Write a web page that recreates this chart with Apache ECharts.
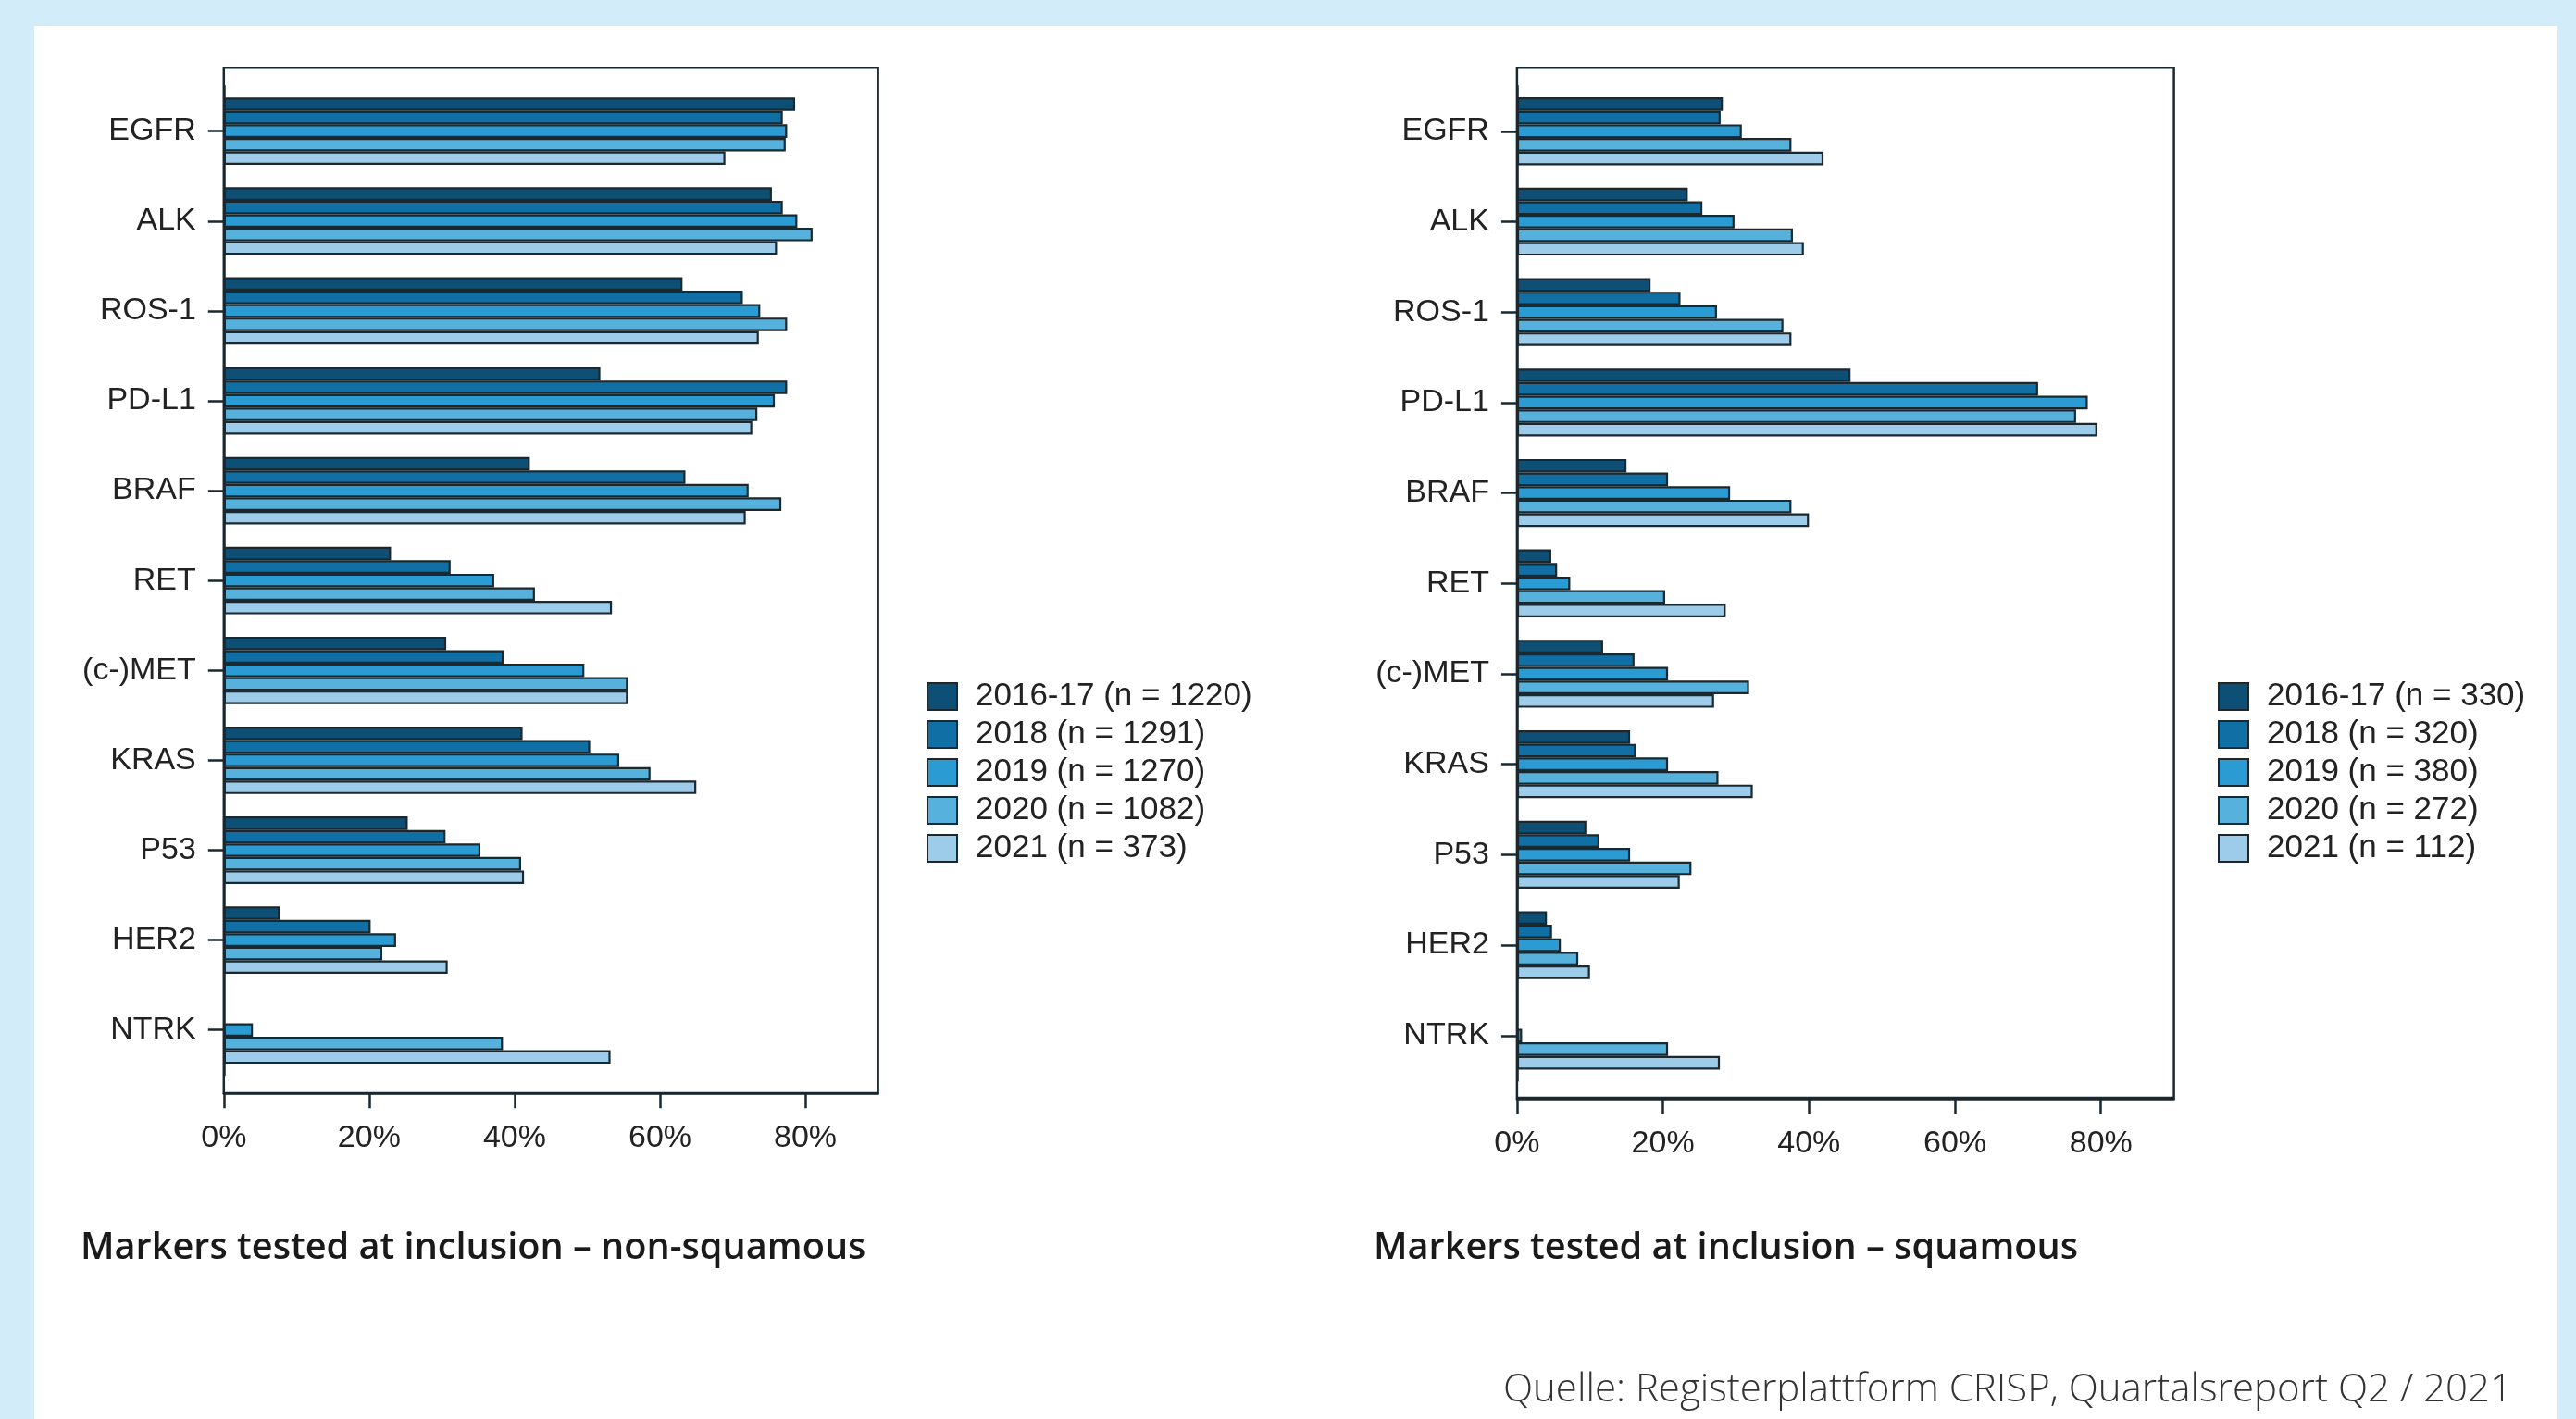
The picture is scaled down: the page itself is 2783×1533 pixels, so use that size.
<!DOCTYPE html>
<html>
<head>
<meta charset="utf-8">
<script src="https://cdn.jsdelivr.net/npm/echarts@6/dist/echarts.min.js"></script>
<style>
  html, body { margin: 0; padding: 0; width: 2783px; height: 1533px; background: #d2edf9; overflow: hidden; }
  #panel { position: absolute; left: 37px; top: 28px; width: 2726px; height: 1505px; background: #ffffff; }
  #chart { position: absolute; left: 0; top: 0; width: 2783px; height: 1533px; }
</style>
</head>
<body>
<div id="panel"></div>
<div id="chart"></div>
<script>
// ---- Data ----
const markers = ['EGFR', 'ALK', 'ROS-1', 'PD-L1', 'BRAF', 'RET', '(c-)MET', 'KRAS', 'P53', 'HER2', 'NTRK'];
const years = ['2016-17', '2018', '2019', '2020', '2021'];
const nNonSquamous = [1220, 1291, 1270, 1082, 373];
const nSquamous = [330, 320, 380, 272, 112];
const xTicks = [0, 20, 40, 60, 80];

// Non-squamous (% tested)
const nonSq_2016_17 = [78.6, 75.4, 63.1, 51.8, 42.1, 23.0, 30.6, 41.1, 25.3, 7.7, null];
const nonSq_2018    = [76.9, 76.9, 71.4, 77.5, 63.5, 31.2, 38.5, 50.4, 30.5, 20.2, null];
const nonSq_2019    = [77.5, 78.9, 73.8, 75.8, 72.2, 37.2, 49.6, 54.4, 35.3, 23.7, 4.0];
const nonSq_2020    = [77.3, 81.0, 77.5, 73.4, 76.7, 42.8, 55.6, 58.7, 40.9, 21.8, 38.4];
const nonSq_2021    = [69.0, 76.1, 73.6, 72.7, 71.8, 53.4, 55.6, 65.0, 41.3, 30.8, 53.2];

// Squamous (% tested)
const sq_2016_17 = [28.2, 23.4, 18.3, 45.7, 15.0, 4.7, 11.8, 15.5, 9.5, 4.1, null];
const sq_2018    = [27.9, 25.4, 22.4, 71.4, 20.7, 5.5, 16.1, 16.3, 11.3, 4.8, null];
const sq_2019    = [30.8, 29.8, 27.4, 78.2, 29.2, 7.3, 20.7, 20.7, 15.5, 6.0, 0.7];
const sq_2020    = [37.6, 37.8, 36.5, 76.6, 37.6, 20.3, 31.8, 27.6, 23.9, 8.4, 20.7];
const sq_2021    = [42.0, 39.3, 37.6, 79.5, 40.0, 28.6, 27.0, 32.3, 22.3, 10.0, 27.8];

const titleLeft = 'Markers tested at inclusion \u2013 non-squamous';
const titleRight = 'Markers tested at inclusion \u2013 squamous';
const sourceText = 'Quelle: Registerplattform CRISP, Quartalsreport Q2 / 2021';

// ---- Style ----
const colors = ['#0e4f76', '#1070a6', '#2a9cd3', '#56b1dc', '#9dcbea'];
const lineColor = '#1a2830';
const textColor = '#222222';
const axisFont = 'Liberation Sans, Arial, sans-serif';

const nonSqData = [nonSq_2016_17, nonSq_2018, nonSq_2019, nonSq_2020, nonSq_2021];
const sqData = [sq_2016_17, sq_2018, sq_2019, sq_2020, sq_2021];
const namesNonSq = years.map((y, i) => y + ' (n = ' + nNonSquamous[i] + ')');
const namesSq = years.map((y, i) => y + ' (n = ' + nSquamous[i] + ')');

function valueAxis(gridIndex, visible) {
  return {
    type: 'value', gridIndex: gridIndex, min: 0, max: 90, interval: 10,
    show: visible,
    offset: 20,
    axisLine: { show: true, lineStyle: { color: lineColor, width: 2.5 } },
    axisTick: { show: true, customValues: xTicks, length: 16, lineStyle: { color: lineColor, width: 2.5 } },
    axisLabel: { show: true, customValues: xTicks, formatter: '{value}%', margin: 31,
                 fontFamily: axisFont, fontSize: 34, color: textColor, lineHeight: 34 },
    splitLine: { show: false }
  };
}
function catAxis(gridIndex) {
  return {
    type: 'category', gridIndex: gridIndex, data: markers, inverse: true,
    axisLine: { show: true, lineStyle: { color: lineColor, width: 2.5 } },
    axisTick: { show: true, alignWithLabel: true, length: 17, lineStyle: { color: lineColor, width: 2.5 } },
    axisLabel: { margin: 30, fontFamily: axisFont, fontSize: 34, color: textColor, lineHeight: 34, padding: [8, 0, 0, 0] },
    splitLine: { show: false }
  };
}
function frameAxes(gridIndex) {
  return {
    x: { type: 'value', gridIndex: gridIndex, show: false, min: 0, max: 1 },
    y: { type: 'value', gridIndex: gridIndex, show: false, min: 0, max: 1 }
  };
}
const f1 = frameAxes(1), f3 = frameAxes(3);

function makeSeries(dataSets, names, axisIndex) {
  return dataSets.map((d, i) => ({
    type: 'bar', name: names[i], xAxisIndex: axisIndex, yAxisIndex: axisIndex,
    data: d, barGap: '0%', barCategoryGap: '25%',
    itemStyle: { color: colors[i], borderColor: lineColor, borderWidth: 2.2 },
    emphasis: { disabled: true }
  }));
}

const legendCommon = {
  orient: 'vertical', padding: 0, itemWidth: 32, itemHeight: 29, itemGap: 6,
  icon: 'rect',
  textStyle: { fontFamily: axisFont, fontSize: 35, color: textColor, padding: [0, 0, 0, 15] },
  selectedMode: false
};

const option = {
  animation: false,
  title: [
    { text: titleLeft, left: 82, top: 1322,
      textStyle: { fontFamily: 'Open Sans, Noto Sans, sans-serif', fontSize: 39.7, fontWeight: 600, color: '#1a1a1a', lineHeight: 44 } },
    { text: titleRight, left: 1479, top: 1322,
      textStyle: { fontFamily: 'Open Sans, Noto Sans, sans-serif', fontSize: 39.7, fontWeight: 600, color: '#1a1a1a', lineHeight: 44 } },
    { text: sourceText, right: 64, top: 1475,
      textStyle: { fontFamily: 'Open Sans, Noto Sans, sans-serif', fontSize: 42, fontWeight: 300, color: '#333333', lineHeight: 44 } }
  ],
  legend: [
    Object.assign({}, legendCommon, { data: namesNonSq, left: 1001, top: 735 }),
    Object.assign({}, legendCommon, { data: namesSq, left: 2396, top: 735 })
  ],
  grid: [
    { left: 241.8, top: 93.1, width: 706.8, height: 1068.2, containLabel: false },
    { left: 241.8, top: 73.3, width: 706.8, height: 1107.7, show: true, borderColor: lineColor, borderWidth: 2.5, backgroundColor: 'rgba(0,0,0,0)' },
    { left: 1638.9, top: 92.9, width: 709.7, height: 1074.7, containLabel: false },
    { left: 1638.9, top: 73.3, width: 709.7, height: 1112.7, show: true, borderColor: lineColor, borderWidth: 2.5, backgroundColor: 'rgba(0,0,0,0)' }
  ],
  xAxis: [ valueAxis(0, true), f1.x, valueAxis(2, true), f3.x ],
  yAxis: [ catAxis(0), f1.y, catAxis(2), f3.y ],
  series: [].concat(makeSeries(nonSqData, namesNonSq, 0), makeSeries(sqData, namesSq, 2))
};

const chart = echarts.init(document.getElementById('chart'), null, { renderer: 'canvas', width: 2783, height: 1533 });
chart.setOption(option);
</script>
</body>
</html>
